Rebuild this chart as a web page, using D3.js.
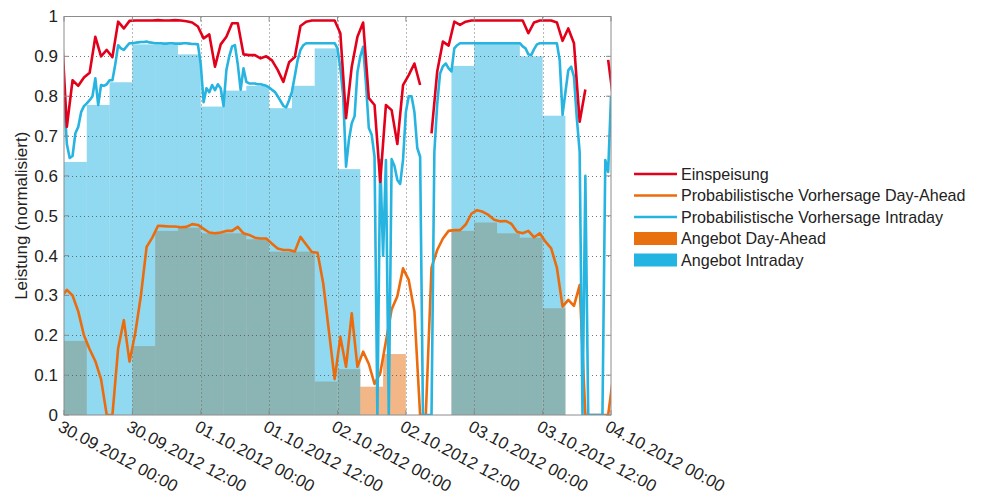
<!DOCTYPE html>
<html>
<head>
<meta charset="utf-8">
<script src="https://cdn.jsdelivr.net/npm/d3@7"></script>
<style>
  body { margin: 0; background: #fff; }
  svg { display: block; font-family: "Liberation Sans", Arial, Helvetica, sans-serif; }
</style>
</head>
<body>
<svg id="chart" width="997" height="497"></svg>
<script>
// Time base: hours after 30.09.2012 00:00 (UTC)
const startDate = Date.UTC(2012, 8, 30, 0, 0);
const blockHours = 4;                              // offer blocks span 4 hours
const hourlyTimes = d3.range(-0.5, 97, 1);         // hourly means, stamped mid-hour
const halfHourTimes = d3.range(0, 96.01, 0.5);     // half-hourly intraday forecast

// Einspeisung (normalised feed-in), hourly
const einspeisung = [
  0.99, 0.723, 0.84, 0.826, 0.847, 0.859, 0.949, 0.90,
  0.916, 0.898, 0.987, 0.97, 0.989, 0.99, 0.99, 0.99,
  0.99, 0.991, 0.99, 0.99, 0.991, 0.99, 0.988, 0.985,
  0.975, 0.945, 0.955, 0.874, 0.93, 0.949, 0.983, 0.983,
  0.905, 0.903, 0.903, 0.895, 0.90, 0.89, 0.866, 0.836,
  0.885, 0.898, 0.976, 0.987, 0.99, 0.99, 0.99, 0.99,
  0.99, 0.958, 0.745, 0.874, 0.949, 0.985, 0.795, 0.778,
  0.585, 0.778, 0.765, 0.68, 0.828, 0.853, 0.882, 0.828,
  null, 0.707, 0.862, 0.937, 0.927, 0.987, 0.979, 0.987,
  0.99, 0.99, 0.99, 0.99, 0.99, 0.99, 0.99, 0.99,
  0.99, 0.99, 0.958, 0.985, 0.99, 0.99, 0.99, 0.985,
  0.939, 0.97, 0.933, 0.736, 0.817, null, null, null,
  0.891, 0.78
];

// Probabilistische Vorhersage Day-Ahead, hourly
const dayAheadForecast = [
  0.295, 0.314, 0.30, 0.26, 0.20, 0.165, 0.135, 0.09,
  0.0, 0.0, 0.167, 0.238, 0.134, 0.205, 0.30, 0.422,
  0.445, 0.475, 0.474, 0.473, 0.473, 0.471, 0.472, 0.479,
  0.477, 0.467, 0.458, 0.456, 0.458, 0.462, 0.462, 0.472,
  0.456, 0.452, 0.445, 0.443, 0.443, 0.43, 0.418, 0.414,
  0.414, 0.41, 0.447, 0.428, 0.409, 0.407, 0.33, 0.21,
  0.09, 0.196, 0.121, 0.255, 0.121, 0.159, 0.128, 0.078,
  0.105, 0.185, 0.265, 0.298, 0.368, 0.339, 0.26, 0.0,
  0.0, 0.37, 0.414, 0.443, 0.462, 0.464, 0.464, 0.478,
  0.505, 0.514, 0.51, 0.502, 0.49, 0.486, 0.487, 0.48,
  0.46, 0.456, 0.462, 0.446, 0.456, 0.435, 0.418, 0.37,
  0.272, 0.289, 0.274, 0.326, 0.0, 0.0, 0.0, 0.0,
  0.0, 0.11
];

// Probabilistische Vorhersage Intraday, half-hourly (one row = 4 hours)
const intradayForecast = [
  0.80, 0.68, 0.645, 0.65, 0.707, 0.723, 0.76, 0.775,
  0.782, 0.79, 0.80, 0.845, 0.778, 0.828, 0.826, 0.83,
  0.84, 0.84, 0.88, 0.928, 0.92, 0.916, 0.925, 0.933,
  0.933, 0.934, 0.935, 0.936, 0.936, 0.937, 0.935, 0.934,
  0.933, 0.933, 0.933, 0.932, 0.932, 0.933, 0.933, 0.932,
  0.932, 0.932, 0.933, 0.933, 0.932, 0.931, 0.931, 0.93,
  0.88, 0.785, 0.82, 0.81, 0.828, 0.815, 0.83, 0.82,
  0.775, 0.866, 0.90, 0.925, 0.928, 0.88, 0.816, 0.87,
  0.836, 0.832, 0.832, 0.832, 0.83, 0.83, 0.828, 0.826,
  0.822, 0.816, 0.811, 0.80, 0.788, 0.776, 0.772, 0.79,
  0.811, 0.85, 0.89, 0.916, 0.928, 0.933, 0.933, 0.933,
  0.933, 0.933, 0.933, 0.933, 0.933, 0.933, 0.933, 0.933,
  0.92, 0.87, 0.80, 0.623, 0.69, 0.732, 0.75, 0.86,
  0.90, 0.924, 0.83, 0.72, 0.703, 0.648, 0.0, 0.64,
  0.40, 0.64, 0.0, 0.642, 0.625, 0.59, 0.58, 0.64,
  0.76, 0.80, 0.80, 0.76, 0.67, 0.648, 0.0, 0.0,
  0.0, 0.0, 0.66, 0.78, 0.857, 0.875, 0.882, 0.87,
  0.862, 0.92, 0.928, 0.933, 0.933, 0.933, 0.933, 0.933,
  0.933, 0.933, 0.933, 0.933, 0.933, 0.933, 0.933, 0.933,
  0.933, 0.933, 0.933, 0.933, 0.933, 0.933, 0.933, 0.933,
  0.933, 0.925, 0.92, 0.905, 0.903, 0.918, 0.93, 0.933,
  0.933, 0.933, 0.933, 0.933, 0.933, 0.933, 0.89, 0.753,
  0.81, 0.865, 0.874, 0.849, 0.745, 0.66, 0.0, 0.60,
  0.0, 0.0, 0.0, 0.0, 0.0, 0.0, 0.64, 0.61,
  0.80
];

// Offered volumes per 4-hour block
const dayAheadOffer = [
  0.186, 0.0, 0.0, 0.173, 0.462, 0.47,
  0.456, 0.456, 0.441, 0.41, 0.41, 0.084,
  0.115, 0.071, 0.153, 0.0, 0.0, 0.462,
  0.483, 0.456, 0.445, 0.268, 0.0, 0.0
];
const intradayOffer = [
  0.635, 0.778, 0.835, 0.93, 0.93, 0.905,
  0.774, 0.814, 0.826, 0.77, 0.826, 0.92,
  0.617, 0.0, 0.0, 0.0, 0.0, 0.876,
  0.931, 0.931, 0.90, 0.751, 0.0, 0.0
];

const yTicks = [0, 0.1, 0.2, 0.3, 0.4, 0.5, 0.6, 0.7, 0.8, 0.9, 1];
const legendLabels = [
  "Einspeisung",
  "Probabilistische Vorhersage Day-Ahead",
  "Probabilistische Vorhersage Intraday",
  "Angebot Day-Ahead",
  "Angebot Intraday"
];

const colors = {
  feedIn: "#e3001b",
  dayAhead: "#ec6c0d",
  intraday: "#27b4e0",
  dayAheadFill: "#e8700f",
  intradayFill: "#23b4e1",
  grid: "#555",
  frame: "#8c8c8c"
};

const plot = { left: 64, right: 611, top: 16.5, bottom: 415 };
const hourMs = 3600e3;
const toDate = h => new Date(startDate + h * hourMs);

const x = d3.scaleUtc()
  .domain([toDate(0), toDate(96)])
  .range([plot.left, plot.right]);
const y = d3.scaleLinear().domain([0, 1]).range([plot.bottom, plot.top]);

const svg = d3.select("#chart");

svg.append("defs").append("clipPath").attr("id", "plotClip")
  .append("rect")
  .attr("x", plot.left).attr("y", plot.top - 2)
  .attr("width", plot.right - plot.left).attr("height", plot.bottom - plot.top + 2);

// Offer blocks: day-ahead underneath, intraday translucent on top
const blocks = svg.append("g");
function drawBlocks(values, fill) {
  blocks.append("g").selectAll("rect")
    .data(values.map((v, i) => ({ v, i })).filter(d => d.v > 0))
    .join("rect")
    .attr("x", d => x(toDate(d.i * blockHours)))
    .attr("width", d => x(toDate((d.i + 1) * blockHours)) - x(toDate(d.i * blockHours)))
    .attr("y", d => y(d.v))
    .attr("height", d => y(0) - y(d.v))
    .attr("fill", fill)
    .attr("fill-opacity", 0.5);
}
drawBlocks(dayAheadOffer, colors.dayAheadFill);
drawBlocks(intradayOffer, colors.intradayFill);

// Dotted grid
const xTicks = x.ticks(d3.utcHour.every(12));
const grid = svg.append("g").attr("stroke", colors.grid).attr("stroke-width", 1)
  .attr("stroke-dasharray", "1,3").attr("opacity", 0.8);
grid.selectAll("line.h").data(yTicks.slice(1, -1)).join("line")
  .attr("x1", plot.left).attr("x2", plot.right)
  .attr("y1", d => Math.round(y(d)) + 0.5).attr("y2", d => Math.round(y(d)) + 0.5);
grid.selectAll("line.v").data(xTicks.slice(1, -1)).join("line")
  .attr("y1", plot.top).attr("y2", plot.bottom)
  .attr("x1", d => Math.round(x(d)) + 0.5).attr("x2", d => Math.round(x(d)) + 0.5);

// Series lines
const lines = svg.append("g").attr("clip-path", "url(#plotClip)")
  .attr("fill", "none").attr("stroke-width", 2.6)
  .attr("stroke-linejoin", "round");
function drawLine(times, values, color) {
  const pts = times.map((t, i) => ({ t, v: values[i] }));
  const gen = d3.line()
    .defined(d => d.v !== null)
    .x(d => x(toDate(d.t)))
    .y(d => y(d.v));
  lines.append("path").attr("d", gen(pts)).attr("stroke", color);
}
drawLine(hourlyTimes, dayAheadForecast, colors.dayAhead);
drawLine(halfHourTimes, intradayForecast, colors.intraday);
drawLine(hourlyTimes, einspeisung, colors.feedIn);

// Frame with inward ticks
const frame = svg.append("g").attr("stroke", colors.frame).attr("fill", "none");
frame.append("rect")
  .attr("x", plot.left).attr("y", plot.top)
  .attr("width", plot.right - plot.left).attr("height", plot.bottom - plot.top);
const tickLen = 5;
frame.selectAll("line.yl").data(yTicks).join("line")
  .attr("x1", plot.left).attr("x2", plot.left + tickLen)
  .attr("y1", d => y(d)).attr("y2", d => y(d));
frame.selectAll("line.yr").data(yTicks).join("line")
  .attr("x1", plot.right).attr("x2", plot.right - tickLen)
  .attr("y1", d => y(d)).attr("y2", d => y(d));
frame.selectAll("line.xb").data(xTicks).join("line")
  .attr("y1", plot.bottom).attr("y2", plot.bottom - tickLen)
  .attr("x1", d => x(d)).attr("x2", d => x(d));
frame.selectAll("line.xt").data(xTicks).join("line")
  .attr("y1", plot.top).attr("y2", plot.top + tickLen)
  .attr("x1", d => x(d)).attr("x2", d => x(d));

// Y tick labels
const fmtY = d => String(+d.toFixed(1));
svg.append("g").selectAll("text").data(yTicks).join("text")
  .attr("x", plot.left - 6).attr("y", d => y(d))
  .attr("dy", "0.35em").attr("text-anchor", "end")
  .attr("font-size", 17).attr("fill", "#222")
  .text(fmtY);

// X tick labels, rotated
const fmtX = d3.utcFormat("%d.%m.%Y %H:%M");
svg.append("g").selectAll("text").data(xTicks).join("text")
  .attr("transform", d => `translate(${x(d) - 1},${plot.bottom + 4}) rotate(28)`)
  .attr("dy", "0.75em").attr("text-anchor", "start")
  .attr("font-size", 17).attr("fill", "#222")
  .text(fmtX);

// Y axis title
svg.append("text")
  .attr("transform", `translate(27,${(plot.top + plot.bottom) / 2}) rotate(-90)`)
  .attr("text-anchor", "middle").attr("font-size", 17).attr("fill", "#222")
  .text("Leistung (normalisiert)");

// Legend
const legend = svg.append("g").attr("transform", "translate(634,174)");
const rowGap = 21.5;
const kinds = [
  { type: "line", color: colors.feedIn },
  { type: "line", color: colors.dayAhead },
  { type: "line", color: colors.intraday },
  { type: "rect", color: colors.dayAheadFill },
  { type: "rect", color: colors.intradayFill }
];
legendLabels.forEach((label, i) => {
  const g = legend.append("g").attr("transform", `translate(0,${i * rowGap})`);
  if (kinds[i].type === "line") {
    g.append("line").attr("x1", 0).attr("x2", 43).attr("y1", 0).attr("y2", 0)
      .attr("stroke", kinds[i].color).attr("stroke-width", 2.6);
  } else {
    g.append("rect").attr("x", 0).attr("y", -6.5).attr("width", 43).attr("height", 13)
      .attr("fill", kinds[i].color);
  }
  g.append("text").attr("x", 47).attr("y", 0).attr("dy", "0.35em")
    .attr("font-size", 16.1).attr("fill", "#222").text(label);
});
</script>
</body>
</html>
